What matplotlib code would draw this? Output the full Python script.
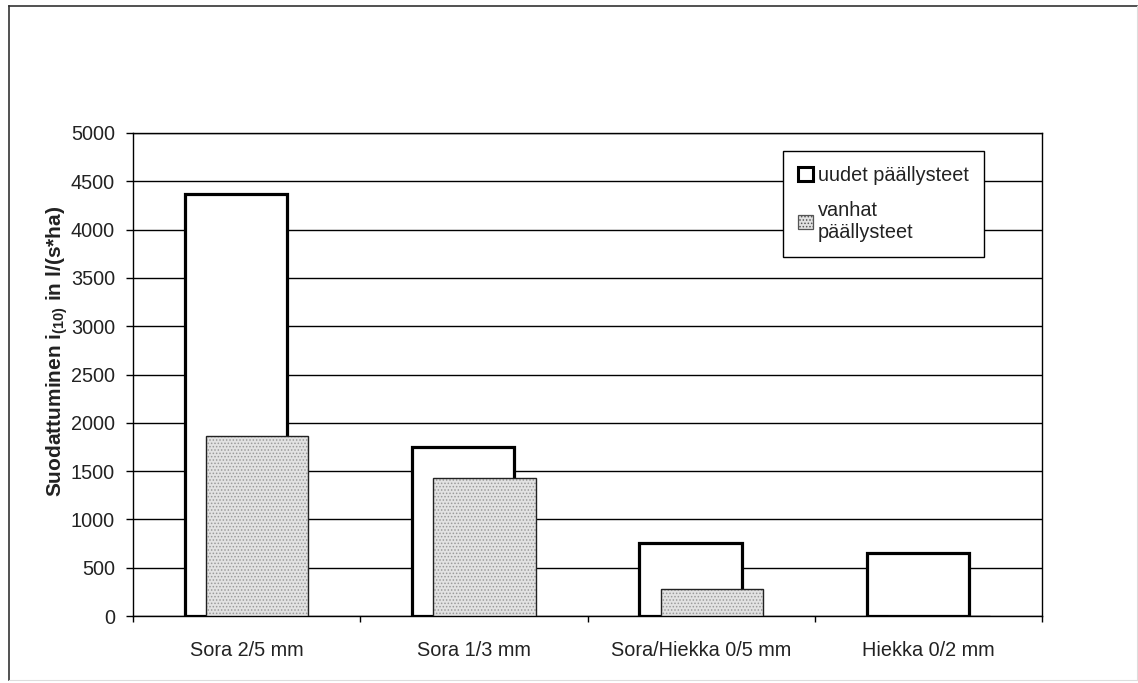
import matplotlib
matplotlib.use("Agg")
import matplotlib.pyplot as plt
import numpy as np
from matplotlib.patches import Patch
from matplotlib.lines import Line2D

plt.rcParams['font.family'] = ['Liberation Sans', 'DejaVu Sans']
plt.rcParams['mathtext.fontset'] = 'custom'
plt.rcParams['mathtext.rm'] = 'Liberation Sans'
plt.rcParams['mathtext.bf'] = 'Liberation Sans:bold'
plt.rcParams['hatch.linewidth'] = 0.7

categories = ["Sora 2/5 mm", "Sora 1/3 mm", "Sora/Hiekka 0/5 mm", "Hiekka 0/2 mm"]
uudet = [4370, 1750, 755, 650]
vanhat = [1860, 1430, 275, 0]
series_labels = ["uudet päällysteet", "vanhat\npäällysteet"]
y_ticks = [0, 500, 1000, 1500, 2000, 2500, 3000, 3500, 4000, 4500, 5000]

W, H = 1138, 683
FS = 14.3
TXT = '#222222'
fig = plt.figure(figsize=(W / 100, H / 100), dpi=100)
ax = fig.add_axes([133 / W, 1 - 616 / H, (1042 - 133) / W, (616 - 133) / H])

x = np.arange(len(categories))
bw = 0.45
off = 0.047

ax.bar(x - off, uudet, width=bw, facecolor='white', edgecolor='black',
       linewidth=2.3, zorder=3)
# dotted fill for the older pavements, outline drawn separately
ax.bar(x + off, vanhat, width=bw, facecolor='#e2e2e2', edgecolor='#9a9a9a',
       hatch='.....', linewidth=0, zorder=4)
ax.bar(x + off, vanhat, width=bw, facecolor='none', edgecolor='#222222',
       linewidth=1.0, zorder=5)

ax.set_xlim(-0.5, len(categories) - 0.5)
ax.set_ylim(0, 5000)
ax.set_yticks(y_ticks)
ax.set_yticklabels([str(v) for v in y_ticks], fontsize=FS, color=TXT)
ax.yaxis.grid(True, color='black', linewidth=1.0, zorder=0)
ax.set_axisbelow(True)

ax.set_xticks(x)
ax.set_xticklabels(categories, fontsize=FS, color=TXT)
ax.tick_params(axis='x', which='major', length=0, pad=18)
ax.set_xticks(np.arange(len(categories) + 1) - 0.5, minor=True)
ax.tick_params(axis='x', which='minor', length=4, width=1, direction='out')
ax.tick_params(axis='y', length=5, width=1, direction='out', pad=8)

for s in ax.spines.values():
    s.set_linewidth(1.0)
    s.set_color('black')

ax.set_ylabel(r"Suodattuminen i$_{\mathbf{(10)}}$ in l/(s*ha)",
              fontsize=15, fontweight='bold', color=TXT)
ax.yaxis.set_label_coords(-0.069, 0.547)

handles = [Patch(facecolor='white', edgecolor='black', linewidth=2.2),
           Patch(facecolor='#e2e2e2', edgecolor='#555555', hatch='.....', linewidth=0.9)]
leg = ax.legend(handles, series_labels, loc='upper left',
                bbox_to_anchor=((783 - 133) / 909, (616 - 151) / 483),
                fontsize=FS, frameon=True, fancybox=False, shadow=False,
                edgecolor='black', framealpha=1.0, handlelength=0.75,
                handleheight=0.75, handletextpad=0.25, labelspacing=0.8,
                borderpad=0.75, borderaxespad=0)
leg.get_frame().set_linewidth(1.0)
leg.set_zorder(10)
for t in leg.get_texts():
    t.set_color(TXT)

# page frame around the chart
fig.add_artist(Line2D([9 / W, 9 / W], [1 - 680 / H, 1 - 6 / H], color='#333333', linewidth=1.2))
fig.add_artist(Line2D([9 / W, 1137 / W], [1 - 6 / H, 1 - 6 / H], color='#333333', linewidth=1.2))
fig.add_artist(Line2D([1136.5 / W, 1136.5 / W], [1 - 680 / H, 1 - 6 / H], color='#dddddd', linewidth=0.8))
fig.add_artist(Line2D([9 / W, 1137 / W], [1 - 680 / H, 1 - 680 / H], color='#dddddd', linewidth=0.8))

fig.savefig("out.png", dpi=100, facecolor='white')
